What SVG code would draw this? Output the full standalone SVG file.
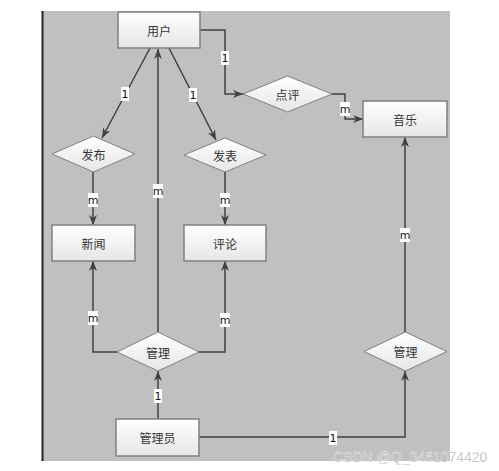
<svg xmlns="http://www.w3.org/2000/svg" width="499" height="471" viewBox="0 0 499 471">
<defs>
<linearGradient id="gr" x1="0" y1="0" x2="0" y2="1">
<stop offset="0" stop-color="#ffffff"/>
<stop offset="1" stop-color="#e6e6e6"/>
</linearGradient>
<marker id="ah" markerWidth="10" markerHeight="8" refX="10" refY="4" orient="auto" markerUnits="userSpaceOnUse">
<path d="M0,0 L10,4 L0,8 L3,4 Z" fill="#404040"/>
</marker>
<style>
.box{fill:url(#gr);stroke:#808080;stroke-width:1.5}
.dia{fill:url(#gr);stroke:#808080;stroke-width:1}
.t{font-family:"Noto Sans CJK SC","Noto Sans",sans-serif;font-size:12px;fill:#333;text-anchor:middle;dominant-baseline:central}
.ln{fill:none;stroke:#404040;stroke-width:1.5}
.lb{fill:#fff}
.lt{font-family:"DejaVu Sans","Liberation Sans",sans-serif;font-size:11px;fill:#111;text-anchor:middle;dominant-baseline:central}
</style>
</defs>
<rect x="0" y="0" width="499" height="471" fill="#fff"/>
<rect x="43" y="11" width="407" height="450" fill="#c0c0c0"/>
<line x1="42.5" y1="11" x2="42.5" y2="461" stroke="#222" stroke-width="2"/>

<g id="connectors">
<path class="ln" d="M150,48 L102,138" marker-end="url(#ah)"/>
<path class="ln" d="M169,48 L216,140" marker-end="url(#ah)"/>
<path class="ln" d="M158,332 L158,49" marker-end="url(#ah)"/>
<path class="ln" d="M200,30 L225,30 L225,94 L243,94" marker-end="url(#ah)"/>
<path class="ln" d="M332,94 L345,94 L345,119 L363,119" marker-end="url(#ah)"/>
<path class="ln" d="M93,172 L93,225" marker-end="url(#ah)"/>
<path class="ln" d="M225,172 L225,225" marker-end="url(#ah)"/>
<path class="ln" d="M117,352 L93,352 L93,261" marker-end="url(#ah)"/>
<path class="ln" d="M199,352 L225,352 L225,261" marker-end="url(#ah)"/>
<path class="ln" d="M158,419 L158,371" marker-end="url(#ah)"/>
<path class="ln" d="M199,437 L405,437 L405,371" marker-end="url(#ah)"/>
<path class="ln" d="M405,332 L405,137" marker-end="url(#ah)"/>
<g>
<rect class="lb" x="121" y="87" width="8" height="14"/><text class="lt" x="125" y="94">1</text>
<rect class="lb" x="189" y="88" width="8" height="14"/><text class="lt" x="193" y="95">1</text>
<rect class="lb" x="153" y="184" width="10" height="14"/><text class="lt" x="158" y="191">m</text>
<rect class="lb" x="221" y="51" width="8" height="14"/><text class="lt" x="225" y="58">1</text>
<rect class="lb" x="340" y="102" width="10" height="14"/><text class="lt" x="345" y="109">m</text>
<rect class="lb" x="88" y="193" width="10" height="14"/><text class="lt" x="93" y="200">m</text>
<rect class="lb" x="220" y="193" width="10" height="14"/><text class="lt" x="225" y="200">m</text>
<rect class="lb" x="88" y="311" width="10" height="14"/><text class="lt" x="93" y="318">m</text>
<rect class="lb" x="220" y="313" width="10" height="14"/><text class="lt" x="225" y="320">m</text>
<rect class="lb" x="154" y="389" width="8" height="14"/><text class="lt" x="158" y="396">1</text>
<rect class="lb" x="329" y="431" width="8" height="14"/><text class="lt" x="333" y="438">1</text>
<rect class="lb" x="400" y="228" width="10" height="14"/><text class="lt" x="405" y="235">m</text>
</g>
</g>

<g id="n-yonghu"><rect class="box" x="118" y="12" width="82" height="36"/><text class="t" x="159" y="30">用户</text></g>
<g id="n-dianping"><polygon class="dia" points="243,94 287.5,76 332,94 287.5,112"/><text class="t" x="287.5" y="94">点评</text></g>
<g id="n-yinyue"><rect class="box" x="363" y="101" width="84" height="36"/><text class="t" x="405" y="119">音乐</text></g>
<g id="n-fabu"><polygon class="dia" points="52,154 93.5,136 135,154 93.5,172"/><text class="t" x="93.5" y="154">发布</text></g>
<g id="n-fabiao"><polygon class="dia" points="184,155 225,138 266,155 225,172"/><text class="t" x="225" y="155">发表</text></g>
<g id="n-xinwen"><rect class="box" x="52" y="225" width="83" height="36"/><text class="t" x="93.5" y="243">新闻</text></g>
<g id="n-pinglun"><rect class="box" x="184" y="225" width="82" height="36"/><text class="t" x="225" y="243">评论</text></g>
<g id="n-guanli1"><polygon class="dia" points="117,352 158,332 199,352 158,371"/><text class="t" x="158" y="352">管理</text></g>
<g id="n-guanli2"><polygon class="dia" points="364,351.5 405.5,332 447,351.5 405.5,371"/><text class="t" x="405.5" y="351.5">管理</text></g>
<g id="n-guanliyuan"><rect class="box" x="116" y="419" width="83" height="37"/><text class="t" x="157.5" y="437.5">管理员</text></g>

<text x="333" y="462" font-family="Liberation Sans, sans-serif" font-size="14" fill="#b0b0b0" stroke="#ffffff" stroke-width="0.3">CSDN @Q_3461074420</text>
</svg>
